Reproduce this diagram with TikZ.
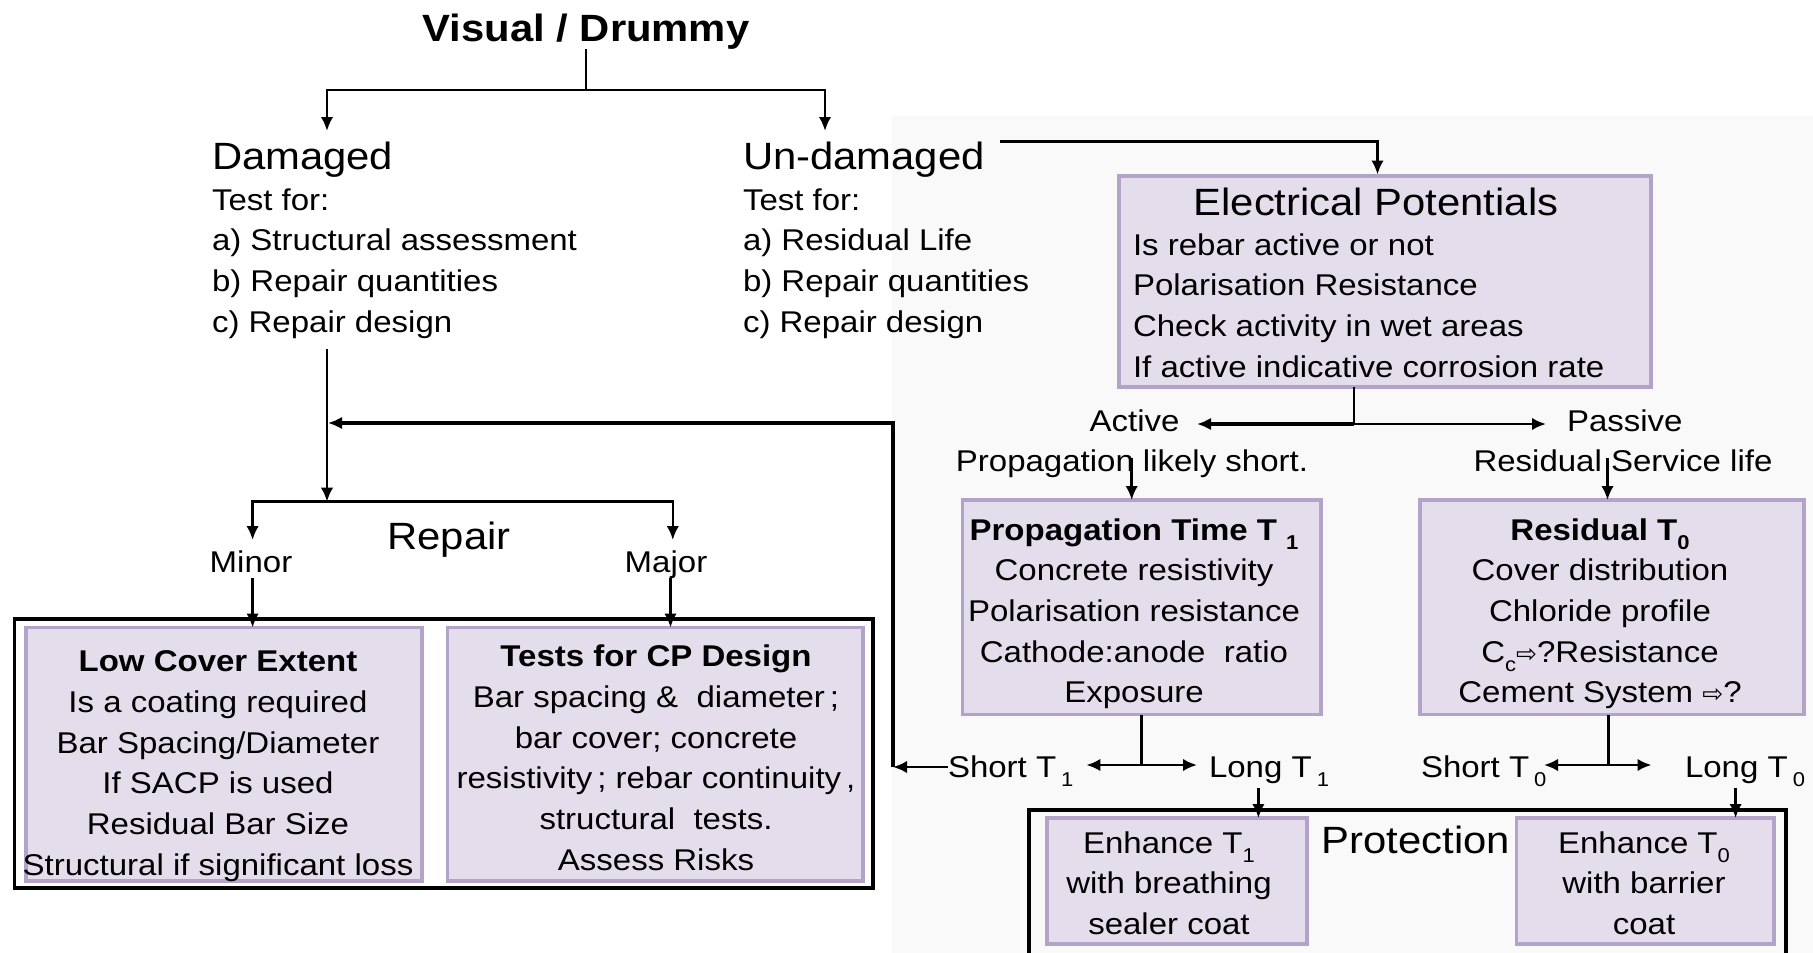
\documentclass[tikz,border=0pt]{standalone}
\usepackage{fontspec}
\setmainfont[FakeStretch=1.1]{Liberation Sans}
\newfontfamily\symf{DejaVu Sans}
\usetikzlibrary{arrows.meta}
\definecolor{boxfill}{HTML}{E4DEEC}
\definecolor{boxline}{HTML}{B3A3C9}
\definecolor{bgwash}{HTML}{F9F9F9}
\newcommand\mylines[2]{\parbox[t]{#1}{\fontsize{30}{40.7}\selectfont\centering #2}}
\newcommand\myleft[2]{\parbox[t]{#1}{\fontsize{30}{40.7}\selectfont\raggedright #2}}
\newcommand\lowsub[1]{\raisebox{-9pt}{\fontsize{20}{20}\selectfont #1}}
\newcommand\warrow{{\symf\fontsize{25}{25}\selectfont ⇨}}
\begin{document}
\begin{tikzpicture}[x=1pt,y=-1pt,
  every node/.style={inner sep=0pt,outer sep=0pt},
  txt/.style={font=\fontsize{30}{40.7}\selectfont},
  big/.style={font=\fontsize{38}{46}\selectfont},
  pbox/.style={draw=boxline,fill=boxfill,line width=3.5pt},
  frame/.style={draw=black,line width=3.5pt},
  wire/.style={line width=2.6pt},
  conn/.style={wire,-{Latex[length=14pt,width=12.5pt]}},
  ]
\useasboundingbox (0,0) rectangle (1813,953);
\clip (0,0) rectangle (1813,953);
\fill[bgwash] (892,116) rectangle (1813,953);

% frames and boxes
\node[frame,minimum width=858.5pt,minimum height=269pt] (repairframe) at (443.75,753.5) {};
\node[frame,minimum width=757pt,minimum height=200pt] (protframe) at (1407.5,910) {};
\node[pbox,minimum width=396pt,minimum height=253.5pt] (lowcover) at (224,754.25) {};
\node[pbox,minimum width=415.5pt,minimum height=253.5pt] (cptests) at (655.25,754.25) {};
\node[pbox,minimum width=532pt,minimum height=211pt] (elec) at (1385,281.5) {};
\node[pbox,minimum width=358.5pt,minimum height=214.7pt] (prop) at (1141.75,607.35) {};
\node[pbox,minimum width=384pt,minimum height=214.7pt] (resid) at (1612,607.35) {};
\node[pbox,minimum width=260pt,minimum height=126pt] (enhone) at (1177,881) {};
\node[pbox,minimum width=257.5pt,minimum height=126pt] (enhzero) at (1645.25,881) {};

% texts
\node[font=\bfseries\fontsize{38}{46}\selectfont,anchor=base] (title) at (586,41.6) {Visual / Drummy};
\node[big,anchor=base west] (damaged) at (212,169) {Damaged};
\node[anchor=base west] (dtests) at (212,210) {\myleft{420pt}{Test for:\\a) Structural assessment\\b) Repair quantities\\c) Repair design}};
\node[big,anchor=base west] (undamaged) at (743,169) {Un-damaged};
\node[anchor=base west] (utests) at (743,210) {\myleft{420pt}{Test for:\\a) Residual Life\\b) Repair quantities\\c) Repair design}};
\node[big,anchor=base] (electitle) at (1376,215) {Electrical Potentials};
\node[anchor=base west] (electext) at (1133,255) {\myleft{510pt}{Is rebar active or not\\Polarisation Resistance\\Check activity in wet areas\\If active indicative corrosion rate}};
\node[txt,anchor=base east] (active) at (1179.5,431.7) {Active};
\node[txt,anchor=base west] (passive) at (1567,431.7) {Passive};
\node[txt,anchor=base] (propshort) at (1132,471.7) {Propagation likely short.};
\node[txt,anchor=base] (ressvc) at (1623,471.7) {Residual Service life};
\node[anchor=base] (proptext) at (1134,540) {\mylines{360pt}{\textbf{Propagation Time T \lowsub{1}}\\Concrete resistivity\\Polarisation resistance\\Cathode:anode \ ratio\\Exposure}};
\node[anchor=base] (residtext) at (1600,540) {\mylines{380pt}{\textbf{Residual T\lowsub{0}}\\Cover distribution\\Chloride profile\\C\lowsub{c}\warrow?Resistance\\Cement System \warrow?}};
\node[txt,anchor=base west] (shortone) at (948,777.7) {Short T\,\lowsub{1}};
\node[txt,anchor=base west] (longone) at (1209,777.7) {Long T\,\lowsub{1}};
\node[txt,anchor=base west] (shortzero) at (1421,777.7) {Short T\,\lowsub{0}};
\node[txt,anchor=base west] (longzero) at (1685,777.7) {Long T\,\lowsub{0}};
\node[anchor=base] (enhonetext) at (1169,853) {\mylines{260pt}{Enhance T\lowsub{1}\\with breathing\\sealer coat}};
\node[anchor=base] (enhzerotext) at (1644,853) {\mylines{260pt}{Enhance T\lowsub{0}\\with barrier\\coat}};
\node[big,anchor=base west] (protection) at (1321.7,853) {Protection};
\node[big,anchor=base] (repair) at (449,549) {Repair};
\node[txt,anchor=base] (minor) at (251,572) {Minor};
\node[txt,anchor=base] (major) at (666,572) {Major};
\node[anchor=base] (lowtext) at (218,671.7) {\mylines{440pt}{\textbf{Low Cover Extent}\\Is a coating required\\Bar Spacing/Diameter\\If SACP is used\\Residual Bar Size\\Structural if significant loss}};
\node[anchor=base] (cptext) at (656,666.7) {\mylines{440pt}{\textbf{Tests for CP Design}\\Bar spacing \& \ diameter\,;\\bar cover; concrete\\resistivity\,; rebar continuity\,,\\structural \ tests.\\Assess Risks}};

% connectors
\coordinate (tsplit) at (586,90);
\coordinate (dtip) at (327,131);
\coordinate (utip) at (825,131);
\draw[wire] (title.south) -- (tsplit);
\draw[conn] (tsplit) -| (dtip);
\draw[conn] (tsplit) -| (utip);

\coordinate (ustart) at (1000,141.7);
\coordinate (etip) at (1377.5,174.5);
\draw[conn] (ustart) -| (etip);

\coordinate (dstem) at (327,349);
\coordinate (rbar) at (327,501.7);
\draw[conn] (dstem) -- (rbar);
\coordinate (minortip) at (252.6,540);
\coordinate (majortip) at (672.8,540);
\draw[conn] (rbar) -| (minortip);
\draw[conn] (rbar) -| (majortip);
\coordinate (minorfrom) at (252.6,578);
\coordinate (majorfrom) at (670.5,578);
\draw[conn] (minorfrom) -- (minorfrom |- lowcover.north);
\draw[conn] (majorfrom) -- (majorfrom |- cptests.north);

\coordinate (loopc) at (893,767);
\coordinate (dbar) at (328,423);
\draw[conn] (shortone.west |- loopc) -- (loopc);
\draw[conn,line width=3.1pt] (loopc) |- (dbar);

\coordinate (esplit) at (1354,424);
\coordinate (activetip) at (1197,424);
\coordinate (passivetip) at (1546,424);
\draw[wire] (esplit |- elec.south) -- (esplit);
\draw[conn,line width=3.1pt] (esplit) -- (activetip);
\draw[conn] (esplit) -- (passivetip);

\coordinate (pfrom) at (1131.7,458);
\coordinate (rfrom) at (1607.5,458);
\draw[conn] (pfrom) -- (pfrom |- prop.north);
\draw[conn] (rfrom) -- (rfrom |- resid.north);

\coordinate (psplit) at (1141.75,765);
\coordinate (sonetip) at (1086.4,765);
\coordinate (lonetip) at (1197,765);
\draw[wire] (prop.south) -- (psplit);
\draw[conn] (psplit) -- (sonetip);
\draw[conn] (psplit) -- (lonetip);
\coordinate (rsplit) at (1608.5,765);
\coordinate (szerotip) at (1544,765);
\coordinate (lzerotip) at (1651.5,765);
\draw[wire] (rsplit |- resid.south) -- (rsplit);
\draw[conn] (rsplit) -- (szerotip);
\draw[conn] (rsplit) -- (lzerotip);

\coordinate (lonefrom) at (1258.4,788);
\coordinate (lzerofrom) at (1735.6,788);
\draw[conn] (lonefrom) -- (lonefrom |- enhone.north);
\draw[conn] (lzerofrom) -- (lzerofrom |- enhzero.north);
\end{tikzpicture}
\end{document}
